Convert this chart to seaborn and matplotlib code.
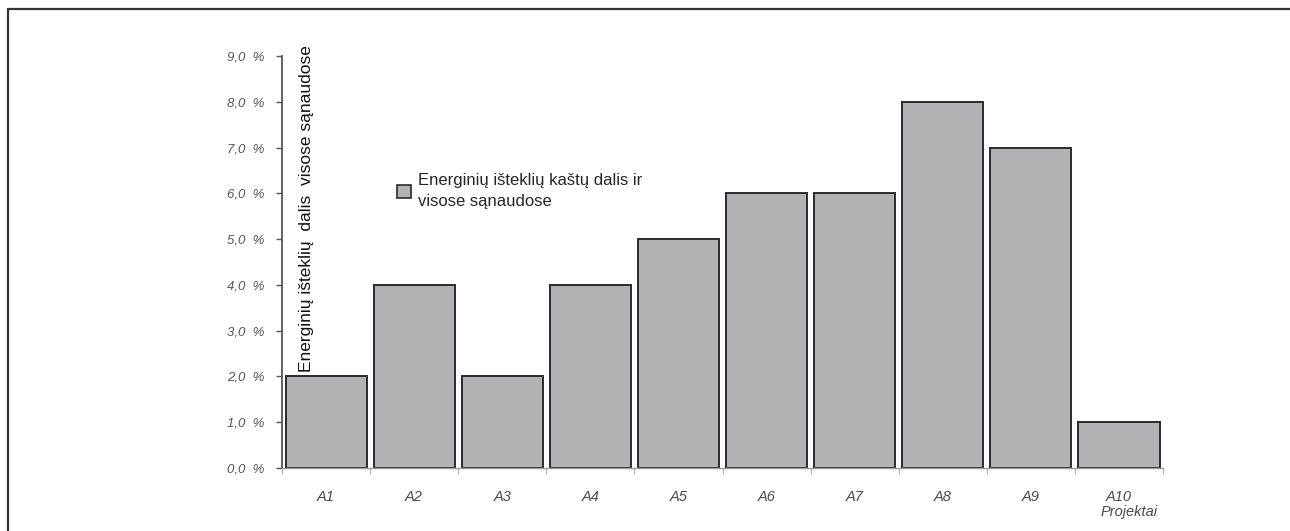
import matplotlib
matplotlib.use("Agg")
import matplotlib.pyplot as plt
from matplotlib.lines import Line2D
from matplotlib.ticker import FixedLocator
import seaborn as sns
import pandas as pd

# Project codes and the share of energy resource costs in total costs (%)
projects = ["A1", "A2", "A3", "A4", "A5", "A6", "A7", "A8", "A9", "A10"]
shares = [2.0, 4.0, 2.0, 4.0, 5.0, 6.0, 6.0, 8.0, 7.0, 1.0]
series_name = "Energinių išteklių kaštų dalis ir\nvisose sąnaudose"
y_ticks = [0, 1, 2, 3, 4, 5, 6, 7, 8, 9]
y_title = "Energinių išteklių  dalis  visose sąnaudose"
x_title = "Projektai"

sns.set_theme(style="white")
plt.rcParams["font.family"] = ["Liberation Sans", "DejaVu Sans"]

df = pd.DataFrame({"Projektas": projects, "Dalis": shares,
                   "Serija": [series_name] * len(projects)})

fig = plt.figure(figsize=(12.9, 5.31), dpi=100)
ax = fig.add_axes([0.2186, 0.1186, 0.683, 0.7759])

sns.barplot(data=df, x="Projektas", y="Dalis", hue="Serija",
            palette=["#b1b2b6"], dodge=False, width=0.92,
            edgecolor="#2b2b2b", linewidth=1.4, ax=ax, legend=True)

ax.set_xlim(-0.5, len(projects) - 0.5)
ax.set_ylim(0, 9)
ax.set_xlabel("")
ax.set_ylabel("")

for side in ("top", "right"):
    ax.spines[side].set_visible(False)
ax.spines["left"].set_color("#555555")
ax.spines["left"].set_linewidth(1.3)
ax.spines["bottom"].set_color("#9a9a9a")
ax.spines["bottom"].set_linewidth(1.0)

ax.set_yticks(y_ticks)
ax.set_yticklabels([f"{v:.1f}".replace(".", ",") + "  %" for v in y_ticks],
                   fontsize=9.5, style="italic", color="#555555")
ax.tick_params(axis="y", left=True, length=4, width=1.0, color="#555555", pad=8.5)

ax.tick_params(axis="x", which="major", bottom=True, length=0, pad=16,
               labelsize=10.5, labelcolor="#4a4a4a")
for lbl in ax.get_xticklabels():
    lbl.set_style("italic")
ax.xaxis.set_minor_locator(FixedLocator([i + 0.5 for i in range(-1, len(projects))]))
ax.tick_params(axis="x", which="minor", bottom=True, length=4, width=0.8, color="#b0b0b0")

ax.text(0.994, -0.090, x_title, transform=ax.transAxes, ha="right", va="top",
        fontsize=10.5, style="italic", color="#4a4a4a")

fig.text(0.2378, 0.2994, y_title, rotation=90, ha="center", va="bottom",
         fontsize=12.5, color="#111111")

leg = ax.legend(loc="center left", bbox_to_anchor=(0.130, 0.672), frameon=False,
                fontsize=12, handlelength=0.85, handleheight=0.85, handletextpad=0.45,
                labelspacing=0.2, borderpad=0.0, borderaxespad=0.0)
for t in leg.get_texts():
    t.set_linespacing(1.45)
for h in leg.legend_handles:
    h.set_edgecolor("#2b2b2b")
    h.set_linewidth(1.2)

# figure frame along the left and top edges
fig.add_artist(Line2D([0.0062, 0.0062], [0.0, 0.983], color="#333333", lw=1.6,
                      transform=fig.transFigure))
fig.add_artist(Line2D([0.0062, 1.0], [0.983, 0.983], color="#333333", lw=1.6,
                      transform=fig.transFigure))

fig.savefig("out.png", dpi=100, facecolor="white")
